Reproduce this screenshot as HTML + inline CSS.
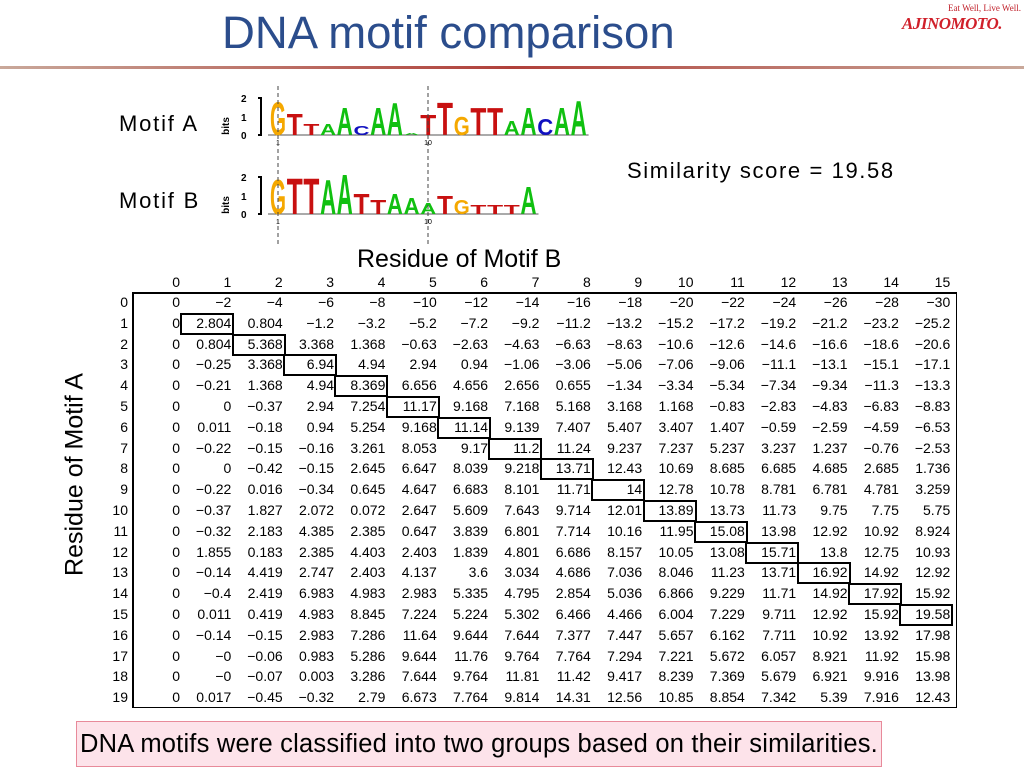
<!DOCTYPE html>
<html><head><meta charset="utf-8">
<style>
body{margin:0;width:1024px;height:768px;background:#fff;position:relative;overflow:hidden;font-family:"Liberation Sans",sans-serif;}
.abs{position:absolute;}
.cell{position:absolute;font-size:14px;text-align:right;width:50px;line-height:20px;color:#000;}
.box{position:absolute;border:2px solid #000;box-sizing:border-box;}
</style></head><body>
<div class="abs" style="left:222px;top:7px;font-size:45.5px;color:#2b4d8c;">DNA motif comparison</div>
<div class="abs" style="left:0;top:66px;width:1024px;height:3px;background:linear-gradient(90deg,#c9a89a,#b0403a,#c9a89a);"></div>
<div class="abs" style="left:948px;top:3px;font-size:9px;color:#c0202a;font-family:'Liberation Serif',serif;">Eat Well, Live Well.</div>
<div class="abs" style="left:902px;top:14px;font-size:17px;color:#d0202a;font-weight:bold;font-family:'Liberation Serif',serif;letter-spacing:-0.5px;font-style:italic;">AJINOMOTO.</div>

<div class="abs" style="left:119px;top:111px;font-size:22px;letter-spacing:1.8px;">Motif A</div>
<div class="abs" style="left:119px;top:188px;font-size:22px;letter-spacing:1.8px;">Motif B</div>
<div class="abs" style="left:627px;top:158px;font-size:22px;letter-spacing:1.6px;">Similarity score = 19.58</div>

<svg class="abs" style="left:0;top:0" width="1024" height="260" id="logos"></svg>

<div class="abs" style="left:357px;top:245px;font-size:25px;">Residue of Motif B</div>
<div class="abs" style="left:-40px;top:460px;font-size:25px;transform:rotate(-90deg);width:230px;text-align:center;">Residue of Motif A</div>

<div id="table"></div>

<div class="abs" style="left:76px;top:721px;width:806px;height:46px;background:#fde3ea;border:1px solid #e88a9a;box-sizing:border-box;font-size:25.5px;text-align:center;line-height:44px;letter-spacing:0.2px;">DNA motifs were classified into two groups based on their similarities.</div>

<script>
const colLabels=[0,1,2,3,4,5,6,7,8,9,10,11,12,13,14,15];
const rowLabels=[0,1,2,3,4,5,6,7,8,9,10,11,12,13,14,15,16,17,18,19];
const matrix=[
"0 -2 -4 -6 -8 -10 -12 -14 -16 -18 -20 -22 -24 -26 -28 -30",
"0 2.804 0.804 -1.2 -3.2 -5.2 -7.2 -9.2 -11.2 -13.2 -15.2 -17.2 -19.2 -21.2 -23.2 -25.2",
"0 0.804 5.368 3.368 1.368 -0.63 -2.63 -4.63 -6.63 -8.63 -10.6 -12.6 -14.6 -16.6 -18.6 -20.6",
"0 -0.25 3.368 6.94 4.94 2.94 0.94 -1.06 -3.06 -5.06 -7.06 -9.06 -11.1 -13.1 -15.1 -17.1",
"0 -0.21 1.368 4.94 8.369 6.656 4.656 2.656 0.655 -1.34 -3.34 -5.34 -7.34 -9.34 -11.3 -13.3",
"0 0 -0.37 2.94 7.254 11.17 9.168 7.168 5.168 3.168 1.168 -0.83 -2.83 -4.83 -6.83 -8.83",
"0 0.011 -0.18 0.94 5.254 9.168 11.14 9.139 7.407 5.407 3.407 1.407 -0.59 -2.59 -4.59 -6.53",
"0 -0.22 -0.15 -0.16 3.261 8.053 9.17 11.2 11.24 9.237 7.237 5.237 3.237 1.237 -0.76 -2.53",
"0 0 -0.42 -0.15 2.645 6.647 8.039 9.218 13.71 12.43 10.69 8.685 6.685 4.685 2.685 1.736",
"0 -0.22 0.016 -0.34 0.645 4.647 6.683 8.101 11.71 14 12.78 10.78 8.781 6.781 4.781 3.259",
"0 -0.37 1.827 2.072 0.072 2.647 5.609 7.643 9.714 12.01 13.89 13.73 11.73 9.75 7.75 5.75",
"0 -0.32 2.183 4.385 2.385 0.647 3.839 6.801 7.714 10.16 11.95 15.08 13.98 12.92 10.92 8.924",
"0 1.855 0.183 2.385 4.403 2.403 1.839 4.801 6.686 8.157 10.05 13.08 15.71 13.8 12.75 10.93",
"0 -0.14 4.419 2.747 2.403 4.137 3.6 3.034 4.686 7.036 8.046 11.23 13.71 16.92 14.92 12.92",
"0 -0.4 2.419 6.983 4.983 2.983 5.335 4.795 2.854 5.036 6.866 9.229 11.71 14.92 17.92 15.92",
"0 0.011 0.419 4.983 8.845 7.224 5.224 5.302 6.466 4.466 6.004 7.229 9.711 12.92 15.92 19.58",
"0 -0.14 -0.15 2.983 7.286 11.64 9.644 7.644 7.377 7.447 5.657 6.162 7.711 10.92 13.92 17.98",
"0 -0 -0.06 0.983 5.286 9.644 11.76 9.764 7.764 7.294 7.221 5.672 6.057 8.921 11.92 15.98",
"0 -0 -0.07 0.003 3.286 7.644 9.764 11.81 11.42 9.417 8.239 7.369 5.679 6.921 9.916 13.98",
"0 0.017 -0.45 -0.32 2.79 6.673 7.764 9.814 14.31 12.56 10.85 8.854 7.342 5.39 7.916 12.43"];
const pathRows=[1,2,3,4,5,6,7,8,9,10,11,12,13,14,15];
const pathCols=[1,2,3,4,5,6,7,8,9,10,11,12,13,14,15];
const motifA=["G","T","T","A","A","C","A","A","A","T","T","G","T","T","A","A","C","A","A"];
const motifAh=[1.85,1.2,0.6,0.6,1.5,0.5,1.5,1.8,0.1,1.1,1.8,1.0,1.5,1.5,0.8,1.5,0.9,1.5,1.9];
const motifB=["G","T","T","A","A","T","T","A","A","A","T","G","T","T","T","A"];
const motifBh=[1.9,2.0,2.0,1.9,2.2,1.1,0.8,1.1,0.9,0.6,1.0,0.8,0.5,0.5,0.5,1.5];

const T=document.getElementById('table');
const colX=c=>181+c*51.35;
const rowY=r=>292+r*20.8;
function div(cls,style,txt){const d=document.createElement('div');d.className=cls;d.style.cssText=style;if(txt!==undefined)d.textContent=txt;T.appendChild(d);return d;}
colLabels.forEach((c,i)=>{const d=div('cell',`left:${colX(i)-51}px;top:${272}px;`,String(c));

});
rowLabels.forEach((r,i)=>{const d=div('cell',`left:${78}px;top:${rowY(i)}px;`,String(r));

});
matrix.forEach((row,i)=>{row.split(' ').forEach((v,j)=>{const d=div('cell',`left:${colX(j)-51}px;top:${rowY(i)}px;`,v.replace('-','\u2212'));

});});
const frame=div('abs','left:132px;top:292px;width:825px;height:416px;border-left:2px solid #000;border-top:2px solid #000;border-right:1px solid #000;border-bottom:1px solid #000;box-sizing:border-box;');


pathRows.forEach((r,k)=>{const c=pathCols[k];const b=div('box',`left:${colX(c)-52}px;top:${rowY(r)}px;width:54px;height:22px;`);

});

const svg=document.getElementById('logos');const NS='http://www.w3.org/2000/svg';
const col={A:'#10c010',C:'#1010c0',G:'#f5a800',T:'#c81010'};
function el(n,a,t){const e=document.createElementNS(NS,n);for(const k in a)e.setAttribute(k,a[k]);if(t!==undefined)e.textContent=t;svg.appendChild(e);return e;}
function logo(letters,hs,base){
  const bx=x=>278+x*16.7;
  el('line',{x1:268,y1:base,x2:bx(letters.length-1)+10,y2:base,stroke:'#555','stroke-width':1});
  el('path',{d:`M258 ${base-37} h3 v37 h-3`,stroke:'#000',fill:'none','stroke-width':2});
  [['2',base-37],['1',base-18],['0',base]].forEach(([t,y])=>{el('text',{x:241,y:y+4,'font-size':10,'font-weight':'bold','font-family':'Liberation Sans'},t);});
  el('text',{x:0,y:0,'font-size':10,'font-weight':'bold','font-family':'Liberation Sans',transform:`translate(229,${base-9}) rotate(-90)`,'text-anchor':'middle'},'bits');
  el('text',{x:278,y:base+10,'font-size':7,'text-anchor':'middle','font-family':'Liberation Sans'},'1');
  el('text',{x:428,y:base+10,'font-size':7,'text-anchor':'middle','font-family':'Liberation Sans'},'10');
  letters.forEach((L,i)=>{const s=hs[i]*18.5/14.4;
    const t=el('text',{x:0,y:0,'font-size':20,'font-weight':'bold','font-family':'Liberation Sans',fill:col[L],textLength:16,lengthAdjust:'spacingAndGlyphs',transform:`translate(${bx(i)-8},${base}) scale(1,${s})`},L);
    
    });
}
logo(motifA,motifAh,135);
logo(motifB,motifBh,214);
[278,428].forEach(x=>el('line',{x1:x,y1:86,x2:x,y2:245,stroke:'#444','stroke-dasharray':'4,3','stroke-width':1}));
</script>
</body></html>
